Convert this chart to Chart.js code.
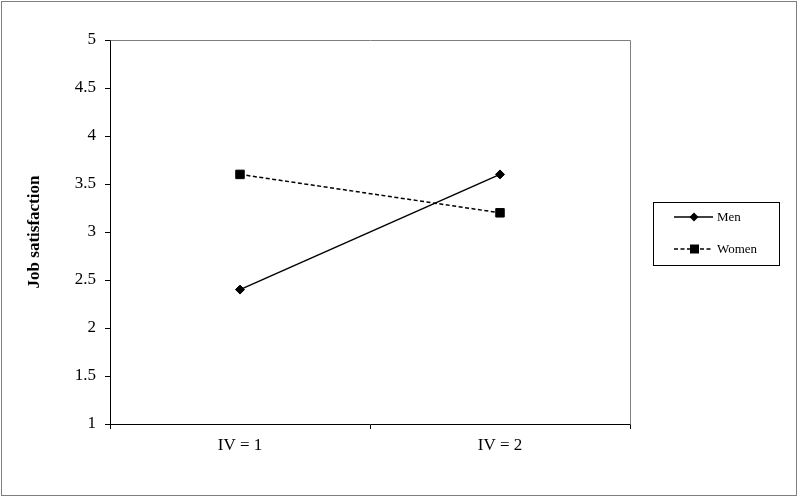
<!DOCTYPE html>
<html>
<head>
<meta charset="utf-8">
<script src="https://cdn.jsdelivr.net/npm/chart.js@4/dist/chart.umd.min.js"></script>
<style>
  body { margin: 0; background: #fff; }
  #wrap { width: 800px; height: 498px; position: relative; }
</style>
</head>
<body>
<div id="wrap"><canvas id="chart"></canvas></div>
<script>
// chart data
const categories = ['IV = 1', 'IV = 2'];
const menValues = [2.4, 3.6];
const womenValues = [3.6, 3.2];
const yTitle = 'Job satisfaction';

const serif = '"Liberation Serif", "Times New Roman", serif';

// frame around the whole picture, grey top/right edges of the plot, and the boxed legend
const framePlugin = {
    id: 'frame',
    afterDraw(chart) {
        const ctx = chart.ctx;
        const a = chart.chartArea;
        ctx.save();
        ctx.strokeStyle = '#7f7f7f';
        ctx.lineWidth = 1;
        ctx.strokeRect(1.5, 1.5, 795, 494);
        ctx.beginPath();
        ctx.moveTo(Math.round(a.left) + 0.5, Math.round(a.top) + 0.5);
        ctx.lineTo(Math.round(a.right) + 0.5, Math.round(a.top) + 0.5);
        ctx.lineTo(Math.round(a.right) + 0.5, Math.round(a.bottom) + 0.5);
        ctx.stroke();

        // legend
        ctx.strokeStyle = '#000';
        ctx.strokeRect(653.5, 202.5, 126, 63);
        ctx.font = '13px ' + serif;
        ctx.fillStyle = '#000';
        ctx.textBaseline = 'middle';
        chart.data.datasets.forEach((ds, i) => {
            const y = 217 + i * 32;
            ctx.beginPath();
            ctx.lineWidth = 1.3;
            ctx.setLineDash(ds.borderDash || []);
            ctx.moveTo(674, y);
            ctx.lineTo(713, y);
            ctx.stroke();
            ctx.setLineDash([]);
            ctx.beginPath();
            if (ds.pointStyle === 'rect') {
                ctx.rect(690, y - 4.5, 9, 9);
            } else {
                ctx.moveTo(694, y - 4.5);
                ctx.lineTo(698.5, y);
                ctx.lineTo(694, y + 4.5);
                ctx.lineTo(689.5, y);
                ctx.closePath();
            }
            ctx.fill();
            ctx.fillText(ds.label, 717, y + 1);
        });
        ctx.restore();
    }
};

const ctx = document.getElementById('chart').getContext('2d');
new Chart(ctx, {
    type: 'line',
    data: {
        labels: categories,
        datasets: [{
            label: 'Men',
            data: menValues,
            borderColor: '#000',
            backgroundColor: '#000',
            borderWidth: 1.5,
            pointStyle: 'rectRot',
            pointRadius: 4.5,
            pointBorderWidth: 1,
            tension: 0
        }, {
            label: 'Women',
            data: womenValues,
            borderColor: '#000',
            backgroundColor: '#000',
            borderWidth: 1.5,
            borderDash: [4, 2.5],
            pointStyle: 'rect',
            pointRadius: 6,
            pointBorderWidth: 1,
            tension: 0
        }]
    },
    options: {
        responsive: true,
        maintainAspectRatio: false,
        animation: false,
        layout: { padding: { top: 40, right: 170, left: 10, bottom: 0 } },
        plugins: {
            legend: { display: false },
            tooltip: { enabled: false }
        },
        scales: {
            x: {
                offset: true,
                grid: { offset: true, drawOnChartArea: false, drawTicks: true, tickLength: 5, color: '#000' },
                border: { color: '#000', width: 1 },
                ticks: { color: '#000', padding: 6, font: { family: serif, size: 17 } },
                afterFit(scale) { scale.height = 74; }
            },
            y: {
                min: 1,
                max: 5,
                ticks: {
                    stepSize: 0.5,
                    color: '#000',
                    padding: 9,
                    font: { family: serif, size: 17 },
                    callback: v => String(v)
                },
                grid: { drawOnChartArea: false, drawTicks: true, tickLength: 5, color: '#000' },
                border: { color: '#000', width: 1 },
                title: {
                    display: true,
                    text: yTitle,
                    color: '#000',
                    padding: { top: 14, bottom: 0 },
                    font: { family: serif, size: 17, weight: 'bold' }
                },
                afterFit(scale) { scale.width = 100; }
            }
        }
    },
    plugins: [framePlugin]
});
</script>
</body>
</html>
